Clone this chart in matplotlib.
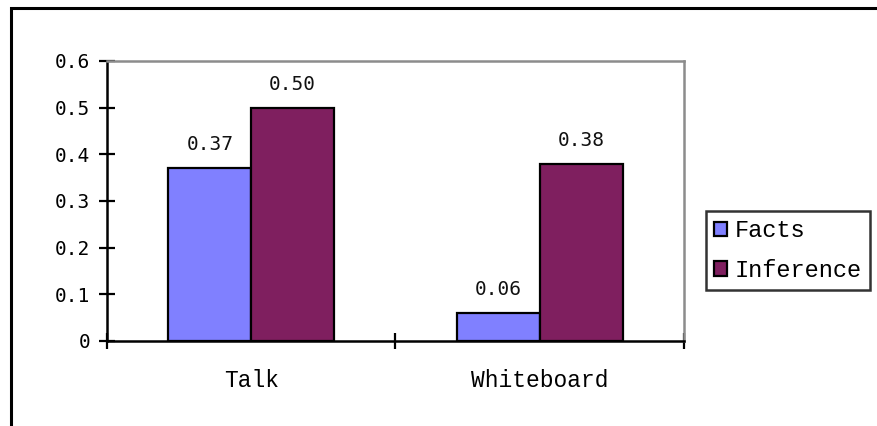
import numpy as np
import matplotlib.pyplot as plt
from matplotlib.patches import Rectangle

categories = ["Talk", "Whiteboard"]
facts = [0.37, 0.06]
inference = [0.50, 0.38]
series_names = ["Facts", "Inference"]
y_ticks = [0, 0.1, 0.2, 0.3, 0.4, 0.5, 0.6]
y_tick_labels = ["0", "0.1", "0.2", "0.3", "0.4", "0.5", "0.6"]

W, H = 877, 426
fig = plt.figure(figsize=(W / 100, H / 100), dpi=100)

# outer chart frame (runs off the right and bottom edges)
fig.patches.append(Rectangle((11 / W, -0.1), 1.2, 1 - 8 / H + 0.1,
                             transform=fig.transFigure, fill=False,
                             edgecolor="black", linewidth=2.2))

ax = fig.add_axes([107 / W, (H - 341) / H, 577 / W, 280 / H])

x = np.arange(len(categories))
width = 0.287
colors = ["#8080ff", "#7f1f5f"]
bars_f = ax.bar(x - width / 2, facts, width, color=colors[0],
                edgecolor="black", linewidth=1.6, label=series_names[0], zorder=3)
bars_i = ax.bar(x + width / 2, inference, width, color=colors[1],
                edgecolor="black", linewidth=1.6, label=series_names[1], zorder=3)

for bars, vals in [(bars_f, facts), (bars_i, inference)]:
    for b, v in zip(bars, vals):
        ax.annotate(f"{v:.2f}", (b.get_x() + b.get_width() / 2, v),
                    xytext=(0, 10), textcoords="offset points",
                    ha="center", va="bottom", family="DejaVu Sans Mono",
                    fontsize=14, color="#111111")

ax.set_xlim(-0.5, len(categories) - 0.5)
ax.set_ylim(0, 0.6)

ax.set_yticks(y_ticks)
ax.set_yticklabels(y_tick_labels, family="DejaVu Sans Mono", fontsize=14)
ax.tick_params(axis="y", direction="inout", length=12, width=1.6, pad=6)

# boundary ticks between categories, labels centred under each group
ax.set_xticks(np.arange(len(categories) + 1) - 0.5)
ax.set_xticklabels([])
ax.set_xticks(x, minor=True)
ax.set_xticklabels(categories, minor=True, family="Liberation Mono", fontsize=16.5)
ax.tick_params(axis="x", which="major", direction="inout", length=12, width=1.6)
ax.tick_params(axis="x", which="minor", length=0, pad=20)

for side in ["left", "bottom"]:
    ax.spines[side].set_linewidth(1.8)
    ax.spines[side].set_color("black")
for side in ["top", "right"]:
    ax.spines[side].set_linewidth(1.8)
    ax.spines[side].set_color("#8c8c8c")

leg = fig.legend(handles=[bars_f, bars_i], labels=series_names,
                 loc="upper left", bbox_to_anchor=(706 / W, 1 - 211 / H),
                 prop={"family": "Liberation Mono", "size": 17},
                 frameon=True, fancybox=False, handlelength=0.55,
                 handleheight=0.55, handletextpad=0.3, borderpad=0.35,
                 labelspacing=0.7, borderaxespad=0)
leg.get_frame().set_edgecolor("black")
leg.get_frame().set_linewidth(1.8)

fig.savefig("out.png", dpi=100)
